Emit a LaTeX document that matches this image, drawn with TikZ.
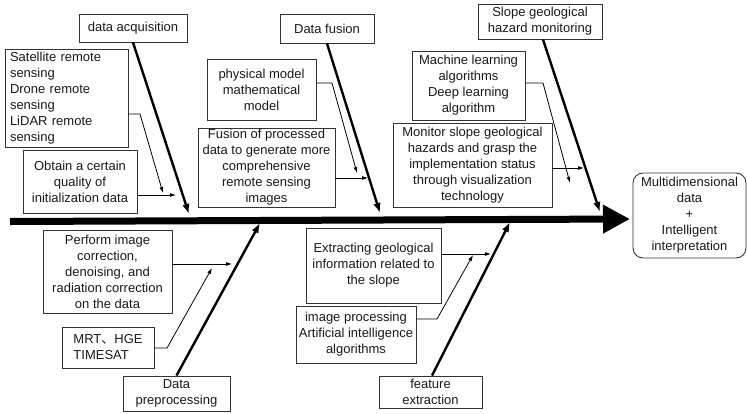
\documentclass[tikz,border=0pt]{standalone}
\usepackage{fontspec}
\setmainfont{Liberation Sans}
\newfontfamily\cjk{Noto Sans CJK SC}
\usetikzlibrary{arrows.meta}

\begin{document}
\begin{tikzpicture}[x=1pt,y=-1pt,
  box/.style={draw=black!80, line width=0.9pt, inner xsep=2pt, inner ysep=0pt,
    align=center, font=\fontsize{13}{16}\selectfont, text=black!90},
  bone/.style={line width=2.4pt, -{Latex[length=10pt,width=7.5pt]}},
  twig/.style={line width=0.8pt, -{Latex[length=6pt,width=4pt]}},
  spine/.style={line width=7pt, -{Triangle[length=27pt,width=27pt]}}]
\useasboundingbox (0,0) rectangle (747,413);

% ---------- cause boxes above the spine ----------
\node[box, minimum width=108pt, minimum height=28pt] (acq) at (133,28) {data acquisition};
\node[box, align=left, inner xsep=5pt, text width=113pt, minimum height=98pt] (sat) at (66.5,98)
  {Satellite remote\\sensing\\Drone remote\\sensing\\LiDAR remote\\sensing};
\node[box, minimum width=114pt, minimum height=63pt] (obt) at (80,181.5)
  {Obtain a certain\\quality of\\initialization data};

\node[box, minimum width=94pt, minimum height=29pt] (fus) at (327,28.5) {Data fusion};
\node[box, minimum width=109pt, minimum height=61pt] (phy) at (261.5,89.5)
  {physical model\\mathematical\\model};
\node[box, inner xsep=1pt, minimum width=137pt, minimum height=79pt] (fop) at (266.5,167.5)
  {Fusion of processed\\data to generate more\\comprehensive\\remote sensing\\images};

\node[box, minimum width=124pt, minimum height=35pt] (slp) at (540,21.5)
  {Slope geological\\hazard monitoring};
\node[box, minimum width=113pt, minimum height=69pt] (mla) at (468.5,85.5)
  {Machine learning\\algorithms\\Deep learning\\algorithm};
\node[box, minimum width=159pt, minimum height=84pt] (mon) at (472.5,165)
  {Monitor slope geological\\hazards and grasp the\\implementation status\\through visualization\\technology};

% ---------- cause boxes below the spine ----------
\node[box, minimum width=129pt, minimum height=83pt] (prf) at (107.5,271.5)
  {Perform image\\correction,\\denoising, and\\radiation correction\\on the data};
\node[box, align=left, minimum width=92pt, minimum height=41pt] (mrt) at (108,347.5)
  {MRT{\cjk 、}HGE\\TIMESAT};
\node[box, minimum width=107pt, minimum height=35pt] (pre) at (176.5,393.5)
  {Data\\preprocessing};

\node[box, minimum width=135pt, minimum height=75pt] (ext) at (373.5,265.5)
  {Extracting geological\\information related to\\the slope};
\node[box, inner xsep=1pt, minimum width=120pt, minimum height=57pt] (img) at (356,334.5)
  {image processing\\Artificial intelligence\\algorithms};
\node[box, minimum width=103pt, minimum height=32pt] (fea) at (430.5,392)
  {feature\\extraction};

% ---------- effect ----------
\node[box, rounded corners=10pt, minimum width=113pt, minimum height=85pt] (res) at (689.5,215.5)
  {Multidimensional\\data\\+\\Intelligent\\interpretation};

% ---------- spine ----------
\coordinate (tail) at (10,221.5);
\coordinate (head) at (630,219);
\draw[spine] (tail) -- (head);

% ---------- main bones ----------
\coordinate (t1) at (189,214);
\coordinate (t2) at (380,213);
\coordinate (t3) at (600,212);
\coordinate (t4) at (260,223);
\coordinate (t5) at (510,222);
\draw[bone] (acq.south) -- (t1);
\draw[bone] (fus.south) -- (t2);
\draw[bone] ([xshift=3pt]slp.south) -- (t3);
\draw[bone] (pre.north) -- (t4);
\draw[bone] ([xshift=1.5pt]fea.north) -- (t5);

% ---------- sub-bones ----------
\coordinate (k1) at (140,114);  \coordinate (h1) at (163,193);
\draw[twig] (sat.east |- k1) -- (k1) -- (h1);
\coordinate (h2) at (176,195);
\draw[twig] (obt.east |- h2) -- (h2);

\coordinate (k3) at (332,83);   \coordinate (h3) at (357,173);
\draw[twig] (phy.east |- k3) -- (k3) -- (h3);
\coordinate (h4) at (368,178);
\draw[twig] (fop.east |- h4) -- (h4);

\coordinate (k5) at (543,83);   \coordinate (h5) at (570,183);
\draw[twig] (mla.east |- k5) -- (k5) -- (h5);
\coordinate (h6) at (584,168);
\draw[twig] (mon.east |- h6) -- (h6);

\coordinate (h7) at (232,264);
\draw[twig] (prf.east |- h7) -- (h7);
\coordinate (k8) at (167,348);  \coordinate (h8) at (212,268);
\draw[twig] (mrt.east |- k8) -- (k8) -- (h8);

\coordinate (h9) at (491,254);
\draw[twig] (ext.east |- h9) -- (h9);
\coordinate (k10) at (437,319); \coordinate (h10) at (473,255);
\draw[twig] (img.east |- k10) -- (k10) -- (h10);
\end{tikzpicture}
\end{document}
